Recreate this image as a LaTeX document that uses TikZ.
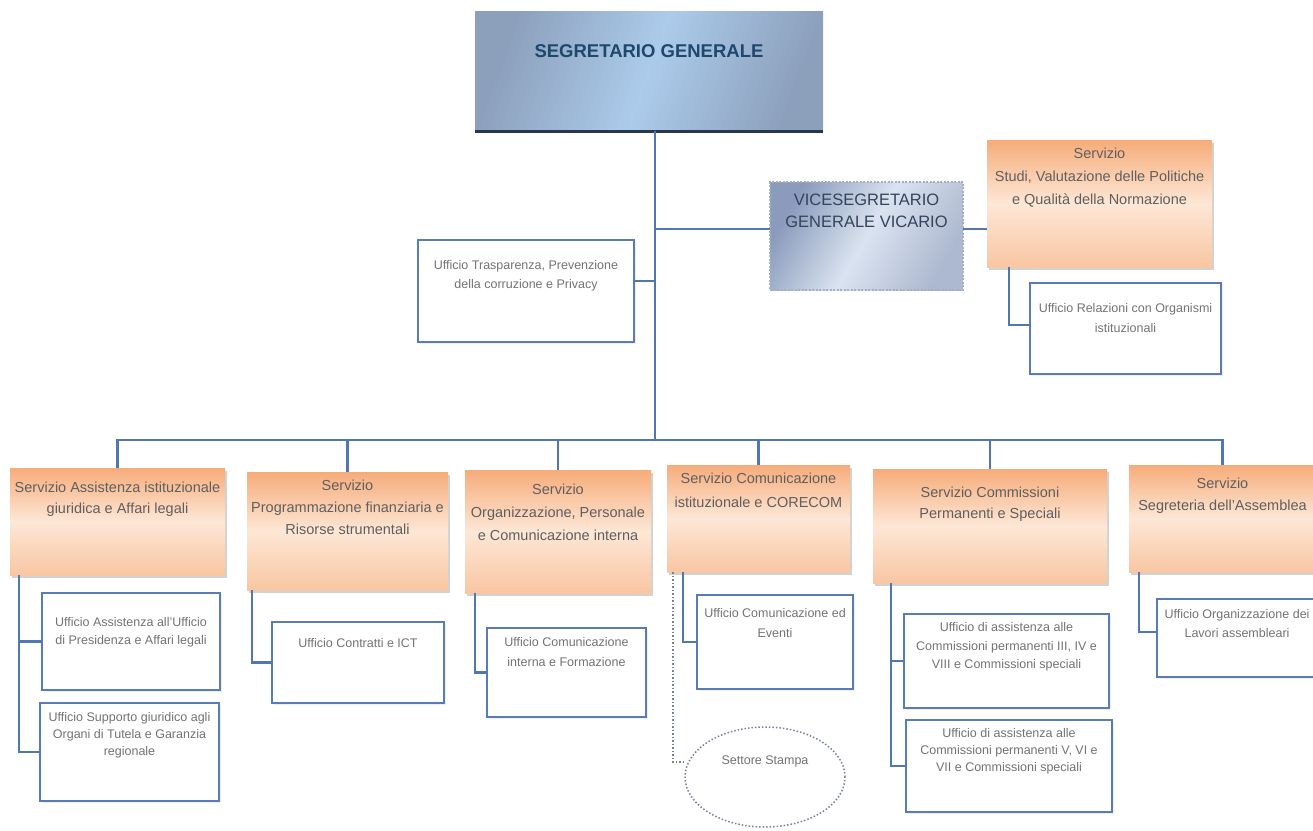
\documentclass[tikz,border=0pt]{standalone}
\usepackage{fontspec}
\setmainfont{Liberation Sans}
\usetikzlibrary{shapes.geometric,shadows}
\definecolor{lineblue}{RGB}{80,118,180}
\definecolor{subblue}{RGB}{88,124,184}
\definecolor{orD}{RGB}{246,172,122}
\definecolor{orL}{RGB}{253,231,214}
\definecolor{orM}{RGB}{249,198,162}
\definecolor{txtO}{RGB}{95,95,95}
\definecolor{txtS}{RGB}{115,115,115}
\definecolor{sgA}{RGB}{140,160,188}
\definecolor{sgB}{RGB}{172,203,235}
\definecolor{sgT}{RGB}{30,72,108}
\definecolor{sgL}{RGB}{40,55,75}
\definecolor{vA}{RGB}{138,155,188}
\definecolor{vB}{RGB}{218,227,240}
\definecolor{vT}{RGB}{52,68,90}
\definecolor{vD}{RGB}{165,175,192}
\definecolor{dotc}{RGB}{120,130,150}
\newcommand\bx[9]{\node[#1, anchor=north west] (#2) at (#3,#4) {\parbox[c][\dimexpr#6pt-#4pt\relax][t]{\dimexpr#5pt-#3pt\relax}{\centering\baselineskip=#8pt\relax\vspace*{#7pt}#9\par}};}
\tikzset{
  conn/.style={draw=lineblue, line width=2.5pt, line join=miter},
  dotline/.style={draw=dotc, line width=1.5pt, dotted},
  orbox/.style={inner sep=0pt, outer sep=0pt, top color=orD, bottom color=orM, middle color=orL,
    font=\fontsize{14.5}{17}\selectfont, text=txtO,
    drop shadow={shadow xshift=2pt, shadow yshift=-2.5pt, opacity=0.35, fill=gray}},
  ufbox/.style={draw=subblue, line width=2pt, fill=white, inner sep=0pt, outer sep=0pt,
    font=\fontsize{12.5}{15}\selectfont, text=txtS,
    drop shadow={shadow xshift=1.5pt, shadow yshift=-1.5pt, opacity=0.12, fill=gray}},
  sgbox/.style={inner sep=0pt, outer sep=0pt, left color=sgA, right color=sgA, middle color=sgB,
    shading angle=70, font=\fontsize{18.5}{22}\selectfont\bfseries, text=sgT},
  vbox/.style={inner sep=0pt, outer sep=0pt, left color=vA, right color=vA!70, middle color=vB,
    shading angle=60, draw=vD, line width=1.3pt, dash pattern=on 2pt off 1.5pt,
    font=\fontsize{16.5}{20}\selectfont, text=vT},
}
\begin{document}
\begin{tikzpicture}[x=1pt,y=-1pt]
\fill[white] (0,0) rectangle (1313,830);
\useasboundingbox (0,0) rectangle (1313,830);

\bx{sgbox}{sg}{475}{11}{823}{131}{33.5}{20}{SEGRETARIO GENERALE}
\draw[sgL, line width=3pt] (sg.south west) -- (sg.south east);
\bx{vbox}{vice}{770}{182}{963}{290}{12}{22}{VICESEGRETARIO\\GENERALE VICARIO}
\bx{orbox}{studi}{987}{140}{1212}{267}{7.8}{23}{Servizio\\Studi, Valutazione delle Politiche\\e Qualità della Normazione}
\bx{ufbox}{tras}{418}{240}{634}{342}{20.5}{19}{Ufficio Trasparenza, Prevenzione\\della corruzione e Privacy}
\bx{ufbox}{rel}{1030}{283}{1221}{374}{20.5}{20}{Ufficio Relazioni con Organismi\\istituzionali}

\bx{orbox}{s1}{10}{468}{225}{575}{13.8}{21.5}{Servizio Assistenza istituzionale\\giuridica e Affari legali}
\bx{orbox}{s2}{247}{472}{448}{590}{7.8}{22}{Servizio\\Programmazione finanziaria e\\Risorse strumentali}
\bx{orbox}{s3}{465}{470}{651}{593}{13.8}{23}{Servizio\\Organizzazione, Personale\\e Comunicazione interna}
\bx{orbox}{s4}{667}{465}{850}{572}{7.8}{24.5}{Servizio Comunicazione\\istituzionale e CORECOM}
\bx{orbox}{s5}{873}{469}{1107}{583}{17.8}{21.5}{Servizio Commissioni\\Permanenti e Speciali}
\bx{orbox}{s6}{1129}{465}{1316}{572}{12.8}{22}{Servizio\\Segreteria dell'Assemblea}

\bx{ufbox}{u1a}{42}{593}{220}{690}{24.5}{18}{Ufficio Assistenza all'Ufficio\\di Presidenza e Affari legali}
\bx{ufbox}{u1b}{40}{703}{219}{801}{9.5}{17}{Ufficio Supporto giuridico agli\\Organi di Tutela e Garanzia\\regionale}
\bx{ufbox}{u2}{272}{622}{444}{703}{16.5}{19}{Ufficio Contratti e ICT}
\bx{ufbox}{u3}{487}{628}{646}{717}{9.5}{20}{Ufficio Comunicazione\\interna e Formazione}
\bx{ufbox}{u4}{697}{595}{853}{689}{13.5}{20}{Ufficio Comunicazione ed\\Eventi}
\bx{ufbox}{u5a}{904}{614}{1109}{708}{8.5}{18.5}{Ufficio di assistenza alle\\Commissioni permanenti III, IV e\\VIII e Commissioni speciali}
\bx{ufbox}{u5b}{906}{720}{1112}{812}{8.5}{17}{Ufficio di assistenza alle\\Commissioni permanenti V, VI e\\VII e Commissioni speciali}
\bx{ufbox}{u6}{1157}{599}{1317}{677}{10.5}{19}{Ufficio Organizzazione dei\\Lavori assembleari}

\node[ellipse, draw=dotc, dotted, line width=1.5pt, minimum width=160pt, minimum height=100pt,
  inner sep=0pt, font=\fontsize{12.5}{15}\selectfont, text=txtS] (st) at (765,777) {\raisebox{34pt}{Settore Stampa}};

% connectors
\coordinate (jv) at (655,229);
\coordinate (jt) at (655,281);
\coordinate (bus) at (655,440);
\draw[conn] (sg.south -| bus) -- (bus);
\draw[conn] (jv) -- (vice.west |- jv);
\draw[conn] (vice.east |- jv) -- (studi.west |- jv);
\draw[conn] (jt) -- (tras.east |- jt);
\draw[conn] (s1.north) -- (s1.north |- bus) -- (s6.north |- bus) -- (s6.north);
\foreach \s in {s2,s3,s4,s5} {\draw[conn] (\s.north |- bus) -- (\s.north);}

\coordinate (c7) at (1009,325);
\draw[conn] (studi.south -| c7) -- (c7) -- (rel.west |- c7);
\coordinate (c1) at (19,0);
\draw[conn] (s1.south -| c1) -- (c1 |- u1b.west) -- (u1b.west);
\draw[conn] (c1 |- u1a.west) -- (u1a.west);
\coordinate (c2) at (252,0);
\draw[conn] (s2.south -| c2) -- (c2 |- u2.west) -- (u2.west);
\coordinate (c3) at (475,0);
\draw[conn] (s3.south -| c3) -- (c3 |- u3.west) -- (u3.west);
\coordinate (c4) at (683,0);
\draw[conn] (s4.south -| c4) -- (c4 |- u4.west) -- (u4.west);
\coordinate (c5) at (891,0);
\draw[conn] (s5.south -| c5) -- (c5 |- u5b.west) -- (u5b.west);
\draw[conn] (c5 |- u5a.west) -- (u5a.west);
\coordinate (c6) at (1139,632);
\draw[conn] (s6.south -| c6) -- (c6) -- (u6.west |- c6);
\coordinate (dd) at (673,762);
\draw[dotline] (s4.south -| dd) -- (dd) -- (st.west |- dd);
\end{tikzpicture}
\end{document}
